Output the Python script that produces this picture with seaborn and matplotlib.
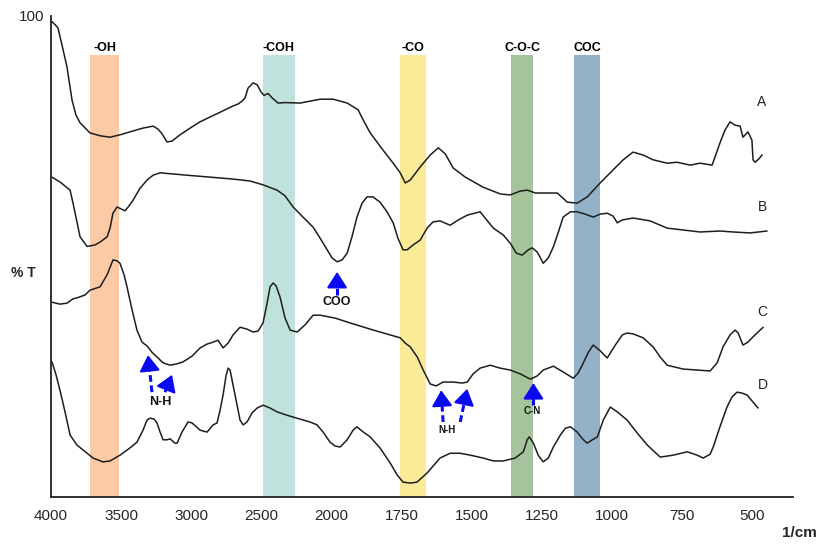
import numpy as np
import pandas as pd
import matplotlib
matplotlib.use('Agg')
import matplotlib.pyplot as plt
import seaborn as sns

# ---- data (wavenumber in 1/cm, %T) ----
wave_a = [4000, 3971, 3950, 3922, 3886, 3850, 3822, 3793, 3722, 3650, 3579, 3508, 3415, 3344,
          3272, 3237, 3208, 3173, 3137, 3080, 3008, 2937, 2866, 2794, 2702, 2666, 2638, 2616,
          2595, 2559, 2530, 2502, 2481, 2452, 2424, 2381, 2331, 2224, 2081, 1994, 1944, 1905,
          1887, 1862, 1816, 1780, 1755, 1737, 1719, 1684, 1648, 1619, 1594, 1566, 1523, 1459,
          1398, 1363, 1327, 1302, 1273, 1195, 1159, 1124, 1088, 1042, 996, 960, 925, 889, 853,
          803, 768, 721, 686, 643, 615, 597, 579, 561, 543, 533, 515, 501, 497, 490, 476, 465]
trans_a = [99.0, 98.2, 97.5, 94.0, 89.4, 82.5, 79.4, 77.8, 75.7, 75.1, 74.8, 75.3, 76.1, 76.7,
           77.1, 76.5, 75.5, 73.8, 74.0, 75.3, 76.7, 78.0, 79.0, 80.0, 81.3, 81.7, 82.3, 83.0,
           85.0, 86.1, 85.7, 84.2, 83.5, 83.9, 83.0, 81.9, 82.0, 81.9, 82.7, 82.7, 81.9, 80.5,
           78.4, 75.7, 72.1, 69.4, 67.4, 65.3, 65.9, 68.6, 71.1, 72.6, 71.3, 68.4, 66.5, 64.4,
           63.0, 62.8, 63.6, 63.8, 63.2, 63.2, 61.3, 61.1, 62.4, 65.3, 68.0, 70.1, 71.7, 71.1,
           70.1, 69.4, 69.6, 69.0, 69.4, 69.0, 73.6, 76.3, 78.0, 77.3, 77.1, 74.8, 75.9, 74.2,
           70.1, 69.6, 70.3, 71.1]

wave_b = [3993, 3936, 3864, 3843, 3815, 3793, 3743, 3686, 3650, 3600, 3579, 3558, 3529, 3501,
          3472, 3444, 3415, 3365, 3315, 3272, 3222, 3030, 2866, 2702, 2581, 2488, 2388, 2331,
          2274, 2203, 2131, 2081, 2031, 1998, 1980, 1962, 1944, 1927, 1909, 1891, 1873, 1852,
          1827, 1802, 1780, 1763, 1745, 1730, 1709, 1684, 1659, 1638, 1613, 1577, 1548, 1516,
          1470, 1452, 1423, 1388, 1363, 1341, 1320, 1298, 1284, 1266, 1245, 1227, 1209, 1191,
          1174, 1148, 1124, 1095, 1067, 1042, 1017, 996, 981, 963, 924, 864, 803, 686, 615,
          568, 508, 447]
trans_b = [66.5, 65.5, 63.8, 61.1, 57.2, 54.1, 52.1, 52.4, 53.0, 54.1, 55.9, 59.0, 60.3, 59.9,
           59.5, 60.5, 61.7, 64.2, 65.9, 66.9, 67.4, 66.9, 66.5, 66.1, 65.7, 64.9, 63.8, 62.6,
           60.3, 58.2, 56.1, 53.8, 51.4, 49.7, 48.9, 49.3, 50.7, 54.1, 58.2, 61.1, 62.4, 62.4,
           61.3, 59.3, 57.0, 53.8, 51.4, 51.4, 52.4, 53.4, 55.9, 57.2, 57.4, 56.5, 57.6, 58.6,
           59.3, 58.0, 55.9, 54.5, 52.8, 50.7, 50.3, 51.4, 51.8, 50.9, 48.6, 49.7, 52.0, 55.1,
           58.2, 59.3, 59.3, 58.8, 58.2, 58.8, 59.0, 58.4, 57.0, 57.6, 58.0, 57.4, 55.9, 55.1,
           55.3, 55.1, 54.9, 55.3]

wave_c = [3993, 3936, 3886, 3843, 3815, 3757, 3722, 3650, 3600, 3558, 3529, 3508, 3479, 3458,
          3422, 3387, 3351, 3315, 3280, 3244, 3201, 3151, 3101, 3058, 2994, 2937, 2887, 2844,
          2809, 2773, 2737, 2702, 2652, 2602, 2559, 2523, 2488, 2459, 2438, 2416, 2395, 2367,
          2331, 2295, 2245, 2188, 2131, 2081, 1987, 1934, 1862, 1791, 1755, 1737, 1719, 1694,
          1673, 1648, 1627, 1602, 1566, 1534, 1516, 1495, 1470, 1434, 1399, 1363, 1327, 1291,
          1266, 1245, 1209, 1174, 1138, 1120, 1102, 1084, 1067, 1042, 1017, 988, 963, 946,
          924, 889, 853, 828, 803, 746, 696, 650, 625, 604, 579, 561, 550, 533, 515, 497, 479, 461]
trans_c = [40.5, 40.1, 40.3, 41.2, 41.4, 42.0, 43.0, 43.7, 46.2, 49.3, 49.1, 48.6, 46.2, 43.7,
           38.9, 34.7, 32.2, 31.4, 30.1, 29.1, 27.9, 27.4, 27.7, 28.1, 29.3, 31.0, 31.8, 32.2,
           32.6, 31.0, 32.0, 33.7, 35.3, 34.9, 34.3, 34.5, 36.2, 40.3, 43.7, 44.5, 43.9, 41.6,
           37.2, 34.7, 34.3, 35.8, 37.8, 37.8, 37.2, 36.2, 34.9, 33.7, 33.1, 32.0, 31.2, 29.1,
           26.4, 23.5, 23.1, 23.9, 23.9, 23.7, 23.9, 25.6, 26.8, 27.4, 26.8, 26.4, 25.6, 24.5,
           25.2, 26.4, 27.2, 26.0, 24.7, 25.8, 27.9, 30.1, 31.6, 30.4, 28.9, 31.6, 33.7, 34.1,
           33.9, 33.1, 31.2, 29.1, 27.4, 26.6, 26.4, 26.2, 27.9, 31.2, 33.7, 34.7, 34.1, 31.6,
           32.2, 33.3, 34.3, 35.3]

wave_d = [3993, 3964, 3936, 3900, 3864, 3815, 3772, 3700, 3629, 3579, 3508, 3437, 3387, 3344,
          3315, 3294, 3265, 3244, 3222, 3201, 3173, 3151, 3116, 3101, 3066, 3023, 2994, 2937,
          2887, 2844, 2816, 2794, 2773, 2752, 2737, 2723, 2702, 2673, 2652, 2630, 2602, 2566,
          2530, 2488, 2438, 2388, 2317, 2224, 2153, 2103, 2060, 2010, 1987, 1969, 1944, 1923,
          1909, 1891, 1862, 1827, 1791, 1766, 1745, 1720, 1695, 1659, 1613, 1577, 1541, 1505,
          1459, 1423, 1388, 1345, 1316, 1302, 1295, 1280, 1263, 1245, 1227, 1209, 1184, 1166,
          1148, 1124, 1102, 1088, 1070, 1052, 1031, 1006, 981, 946, 910, 874, 828, 782, 732,
          696, 675, 650, 639, 615, 590, 572, 554, 536, 518, 501, 479]
trans_d = [28.1, 25.4, 22.2, 17.7, 12.9, 10.8, 9.8, 8.1, 7.3, 7.5, 8.7, 10.2, 11.4, 13.9,
           16.0, 16.4, 16.2, 15.4, 13.5, 11.9, 11.9, 12.1, 11.2, 11.2, 13.5, 15.6, 15.4, 13.9,
           13.5, 15.0, 15.4, 18.1, 21.2, 25.2, 26.8, 26.4, 23.3, 19.1, 16.0, 15.0, 15.6, 17.5,
           18.5, 19.1, 18.5, 17.7, 17.0, 16.2, 15.6, 15.0, 13.5, 11.4, 10.6, 10.4, 11.9, 13.9,
           14.6, 13.7, 12.5, 10.2, 7.1, 4.6, 3.1, 2.9, 3.1, 5.0, 8.1, 9.1, 9.1, 8.7,
           8.1, 7.5, 7.5, 8.1, 9.4, 11.9, 12.5, 11.2, 8.7, 7.3, 8.1, 10.4, 12.9, 14.3,
           14.6, 13.5, 11.9, 11.2, 11.9, 12.5, 16.0, 18.7, 17.7, 16.0, 13.3, 10.8, 8.3, 8.7, 9.4,
           8.7, 8.1, 8.9, 10.4, 14.6, 18.7, 20.8, 21.8, 21.6, 21.2, 20.0, 18.5]

curve_names = ['A', 'B', 'C', 'D']
curve_label_pos = [(465, 82.1), (465, 60.3), (465, 38.5), (461, 23.3)]

band_names = ['-OH', '-COH', '-CO', 'C-O-C', 'COC']
band_lo = [3515, 2260, 1663, 1280, 1042]
band_hi = [3722, 2490, 1755, 1360, 1135]
band_colors = ['#fdcaa6', '#bfe3dc', '#fbea98', '#a6c49b', '#93b2c8']
band_top = 91.9

x_ticks = [4000, 3500, 3000, 2500, 2000, 1750, 1500, 1250, 1000, 750, 500]

# arrows: (tail wave, tail T, tip wave, tip T)
arrows = [(1980, 42.0, 1980, 46.8),
          (3280, 21.8, 3308, 29.5),
          (3187, 21.8, 3137, 25.4),
          (1602, 15.6, 1609, 22.2),
          (1541, 15.6, 1516, 22.5),
          (1280, 19.1, 1280, 23.7)]
arrow_texts = [('COO', 1980, 40.6, 9), ('N-H', 3222, 19.8, 9),
               ('N-H', 1588, 13.9, 7), ('C-N', 1284, 17.9, 7)]


# piecewise wavenumber axis (scale doubles below 2000 1/cm)
def fwd(w):
    w = np.asarray(w, dtype=float)
    return np.where(w >= 2000, w / 500.0, w / 250.0 - 4.0)


def inv(p):
    p = np.asarray(p, dtype=float)
    return np.where(p >= 4, p * 500.0, (p + 4.0) * 250.0)


sns.set_style('white')
plt.rcParams['font.family'] = ['Liberation Sans', 'DejaVu Sans']

fig = plt.figure(figsize=(8.16, 5.46), dpi=100)
ax = fig.add_axes([0.0625, 0.0897, 0.9095, 0.881])
ax.set_xscale('function', functions=(fwd, inv))

frames = []
for name, w, t in zip(curve_names, [wave_a, wave_b, wave_c, wave_d],
                      [trans_a, trans_b, trans_c, trans_d]):
    frames.append(pd.DataFrame({'wave': w, 'T': t, 'curve': name}))
df = pd.concat(frames, ignore_index=True)

for lo, hi, col in zip(band_lo, band_hi, band_colors):
    ax.axvspan(lo, hi, ymin=0, ymax=band_top / 100, color=col, lw=0, zorder=0)
for name, lo, hi in zip(band_names, band_lo, band_hi):
    mid = inv((fwd(lo) + fwd(hi)) / 2)
    ax.text(mid, band_top + 1.5, name, ha='center', va='center', fontsize=9,
            fontweight='bold', color='black')

sns.lineplot(data=df, x='wave', y='T', units='curve', estimator=None, sort=False,
             color='#1e1e1e', linewidth=1.1, ax=ax, zorder=3)

for name, (wx, ty) in zip(curve_names, curve_label_pos):
    ax.text(wx, ty, name, ha='center', va='center', fontsize=10, color='#222222')

blue = '#0a0aee'
for tw, tt, hw, ht in arrows:
    # dashed shaft, solid head
    mw = inv(fwd(tw) + 0.72 * (fwd(hw) - fwd(tw)))
    mt = tt + 0.72 * (ht - tt)
    ax.plot([tw, mw], [tt, mt], color=blue, lw=2.2, ls=(0, (2.2, 1.2)), zorder=4)
    ax.annotate('', xy=(hw, ht), xytext=(mw, mt),
                arrowprops=dict(arrowstyle='-|>,head_width=0.45,head_length=0.7',
                                color=blue, lw=1.5, mutation_scale=14,
                                shrinkA=0, shrinkB=0), zorder=4)
for txt, wx, ty, fs in arrow_texts:
    ax.text(wx, ty, txt, ha='center', va='center', fontsize=fs, fontweight='bold',
            color='#111111')

ax.set_xlim(4000, 354)
ax.set_ylim(0, 100)
ax.set_xticks(x_ticks)
ax.set_xticklabels([str(v) for v in x_ticks], fontsize=11)
ax.set_yticks(range(0, 101, 10))
ax.set_yticklabels(['' for _ in range(10)] + ['100'], fontsize=11)
ax.tick_params(axis='x', direction='inout', length=5, width=1, color='#333333', pad=6)
ax.tick_params(axis='y', direction='out', length=3, width=1, color='#333333', pad=2)
ax.minorticks_off()
ax.set_xlabel('')
ax.set_ylabel('')

for side in ['top', 'right']:
    ax.spines[side].set_visible(False)
for side in ['left', 'bottom']:
    ax.spines[side].set_color('#222222')
    ax.spines[side].set_linewidth(1.3)

fig.text(0.029, 0.50, '% T', ha='center', va='center', fontsize=10, fontweight='bold')
fig.text(0.98, 0.024, '1/cm', ha='center', va='center', fontsize=11, fontweight='bold')

plt.savefig('out.png', dpi=100)
